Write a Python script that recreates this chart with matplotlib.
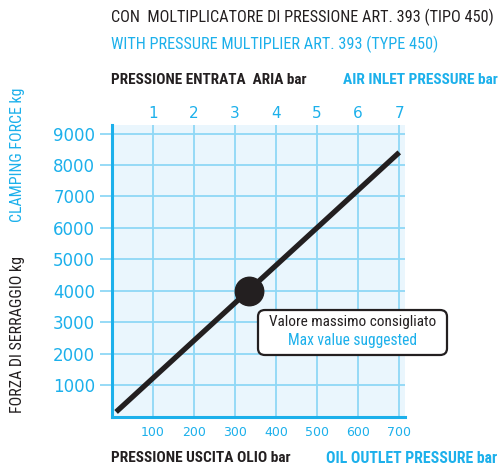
import matplotlib.pyplot as plt
from matplotlib.patches import FancyBboxPatch

# valori
oil_bar = [10, 700]
force_kg = [150, 8400]
max_oil = [335]
max_force = [4000]
y_ticks = [1000, 2000, 3000, 4000, 5000, 6000, 7000, 8000, 9000]
x_ticks = [100, 200, 300, 400, 500, 600, 700]
air_labels = ['1', '2', '3', '4', '5', '6', '7']

BLUE = '#1cb0eb'
GRID = '#8fd8f6'
BG = '#eaf6fd'
DARK = '#231f20'
COND = ['Roboto Condensed', 'DejaVu Sans']
NUM = ['DejaVu Sans']

fig = plt.figure(figsize=(5, 4.7), dpi=100)
ax = fig.add_axes([0.224, 0.1135, 0.586, 0.6205])
ax.set_facecolor(BG)
ax.set_xlim(0, 714)
ax.set_ylim(0, 9270)

ax.set_xticks(x_ticks)
ax.set_yticks(y_ticks)
ax.grid(True, color=GRID, lw=1.3)
ax.set_axisbelow(True)
for s in ['top', 'right']:
    ax.spines[s].set_visible(False)
for s in ['left', 'bottom']:
    ax.spines[s].set_color(BLUE)
    ax.spines[s].set_linewidth(2.2)
ax.tick_params(axis='y', colors=GRID, length=8.6, width=1.3, pad=3.5,
               labelcolor=BLUE, labelsize=12)
ax.tick_params(axis='x', length=0, pad=7, labelcolor=BLUE, labelsize=9)
for t in ax.get_xticklabels() + ax.get_yticklabels():
    t.set_family(NUM)

top = ax.twiny()
top.set_xlim(ax.get_xlim())
top.set_xticks(x_ticks)
top.set_xticklabels(air_labels, family=NUM, fontsize=11, color=BLUE)
top.tick_params(axis='x', length=0, pad=3)
for s in top.spines.values():
    s.set_visible(False)

ax.plot(oil_bar, force_kg, color=DARK, lw=3.8, solid_capstyle='butt', zorder=3)
ax.plot(max_oil, max_force, 'o', color=DARK, ms=20.5, zorder=4)

# riquadro valore massimo
box = FancyBboxPatch((0.516, 0.2447), 0.378, 0.0957,
                     boxstyle='round,pad=0,rounding_size=0.014',
                     transform=fig.transFigure, fc='white', ec=DARK, lw=1.6, zorder=5)
fig.patches.append(box)
fig.text(0.705, 0.3149, 'Valore massimo consigliato', family=COND,
         fontsize=11, color=DARK, ha='center', va='center', zorder=6)
fig.text(0.705, 0.2745, 'Max value suggested', family=COND,
         fontsize=11.2, color=BLUE, ha='center', va='center', zorder=6)

# titoli
fig.text(0.222, 0.962, 'CON  MOLTIPLICATORE DI PRESSIONE ART. 393 (TIPO 450)',
         family=COND, fontsize=11.7, color=DARK, ha='left', va='center')
fig.text(0.222, 0.906, 'WITH PRESSURE MULTIPLIER ART. 393 (TYPE 450)',
         family=COND, fontsize=11.7, color=BLUE, ha='left', va='center')
fig.text(0.222, 0.830, 'PRESSIONE ENTRATA  ARIA bar', family=COND,
         fontsize=11, weight='bold', color=DARK, ha='left', va='center')
fig.text(0.996, 0.830, 'AIR INLET PRESSURE bar', family=COND,
         fontsize=11.1, weight='bold', color=BLUE, ha='right', va='center')
fig.text(0.222, 0.0255, 'PRESSIONE USCITA OLIO bar', family=COND,
         fontsize=11.1, weight='bold', color=DARK, ha='left', va='center')
fig.text(0.994, 0.0255, 'OIL OUTLET PRESSURE bar', family=COND,
         fontsize=11.3, weight='bold', color=BLUE, ha='right', va='center')
fig.text(0.036, 0.670, 'CLAMPING FORCE kg', family=COND, fontsize=11.4,
         color=BLUE, rotation=90, ha='center', va='center')
fig.text(0.036, 0.289, 'FORZA DI SERRAGGIO kg', family=COND, fontsize=11.5,
         color=DARK, rotation=90, ha='center', va='center')

fig.savefig('out.png', dpi=100)
